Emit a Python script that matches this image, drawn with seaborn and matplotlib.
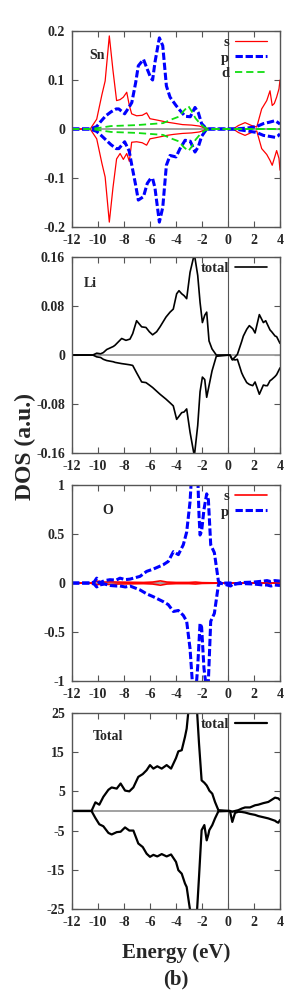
import matplotlib
matplotlib.use('agg')
import seaborn as sns
import matplotlib.pyplot as plt

sns.set_style('ticks')
plt.rcParams['font.family'] = ['Liberation Serif', 'DejaVu Serif']
plt.rcParams['font.weight'] = 'bold'
plt.rcParams['axes.unicode_minus'] = False

energy_ticks = [-12, -10, -8, -6, -4, -2, 0, 2, 4]
energy_labels = ['-12', '-10', '-8', '-6', '-4', '-2', '0', '2', '4']

# ---- Sn ----
sn_s_e = [-12, -10.6, -10.1, -9.7, -9.45, -9.13, -8.85, -8.57, -8.3, -8.05, -7.79, -7.59, -7.41, -7.03, -6.6,
          -6.26, -6.0, -5.6, -5.23, -4.7, -4.2, -3.5, -2.8, -2.2, -1.8, -1.4, 0.4, 0.79, 1.31, 1.82, 2.21, 2.59,
          2.98, 3.23, 3.4, 3.56, 3.74, 3.92, 4.0]
sn_s_up = [0, 0, 0.02, 0.07, 0.098, 0.19, 0.12, 0.058, 0.06, 0.065, 0.075, 0.048, 0.031, 0.027, 0.028,
           0.033, 0.021, 0.019, 0.017, 0.014, 0.012, 0.009, 0.008, 0.006, 0.002, 0, 0, 0.007, 0.013, 0.007, 0.004,
           0.041, 0.058, 0.078, 0.048, 0.052, 0.065, 0.082, 0.1]
sn_s_dn = [0, 0, -0.02, -0.07, -0.098, -0.19, -0.12, -0.061, -0.05, -0.062, -0.05, -0.066, -0.027, -0.026,
           -0.028, -0.033, -0.02, -0.018, -0.016, -0.013, -0.011, -0.009, -0.008, -0.006, -0.002, 0, 0, -0.007,
           -0.013, -0.007, -0.004, -0.04, -0.052, -0.064, -0.074, -0.06, -0.044, -0.06, -0.084]

sn_p_e = [-12, -10.6, -10.1, -9.8, -9.4, -9.0, -8.6, -8.4, -7.95, -7.6, -7.4, -7.1, -6.9, -6.5, -6.21, -5.95,
          -5.8, -5.62, -5.28, -5.02, -4.74, -4.46, -4.0, -3.69, -3.3, -2.9, -2.54, -2.28, -2.03, -1.64, -1.2, 0.5,
          1.5, 2.2, 2.72, 3.2, 3.62, 3.85, 4.0]
sn_p_up = [0, 0, 0.005, 0.015, 0.027, 0.035, 0.041, 0.041, 0.031, 0.045, 0.054, 0.095, 0.129, 0.142, 0.122,
           0.105, 0.1, 0.136, 0.186, 0.17, 0.088, 0.065, 0.048, 0.038, 0.026, 0.025, 0.044, 0.033, 0.011, 0, 0, 0,
           0.002, 0.005, 0.011, 0.014, 0.017, 0.013, 0.01]
sn_p_dn = [0, 0, -0.005, -0.012, -0.022, -0.032, -0.04, -0.04, -0.026, -0.045, -0.074, -0.115, -0.145, -0.138,
           -0.111, -0.101, -0.101, -0.12, -0.19, -0.16, -0.074, -0.054, -0.057, -0.04, -0.023, -0.025, -0.047,
           -0.036, -0.015, 0, 0, 0, -0.004, -0.007, -0.013, -0.015, -0.017, -0.014, -0.01]

sn_d_e = [-12, -10.6, -10.0, -9.0, -8.0, -7.0, -6.0, -5.0, -4.3, -3.8, -3.44, -3.05, -2.79, -2.5, -2.15, -1.8,
          -1.4, 4.0]
sn_d_up = [0, 0, 0.002, 0.006, 0.007, 0.008, 0.01, 0.012, 0.02, 0.025, 0.036, 0.047, 0.036, 0.022, 0.011,
           0.003, 0, 0]
sn_d_dn = [0, 0, -0.002, -0.006, -0.007, -0.008, -0.01, -0.012, -0.02, -0.025, -0.036, -0.045, -0.036, -0.022,
           -0.011, -0.003, 0, 0]

# ---- Li ----
li_e = [-12, -10.4, -10.1, -9.8, -9.59, -9.33, -8.82, -8.69, -8.18, -7.85, -7.54, -7.33, -7.03, -6.64, -6.31,
        -6.05, -5.8, -5.49, -5.23, -4.77, -4.46, -4.21, -3.95, -3.77, -3.56, -3.38, -3.18, -2.92, -2.59, -2.33,
        -2.15, -1.97, -1.79, -1.64, -1.46, -1.23, -0.9, 0.15, 0.33, 0.55, 0.72, 1.05, 1.18, 1.44, 1.64, 1.9, 2.08,
        2.41, 2.72, 2.9, 3.03, 3.23, 3.36, 3.62, 3.74, 4.0]
li_up = [0, 0, 0.003, 0.002, 0.004, 0.009, 0.014, 0.016, 0.027, 0.024, 0.026, 0.035, 0.056, 0.046, 0.045,
         0.038, 0.033, 0.038, 0.046, 0.062, 0.07, 0.075, 0.1, 0.105, 0.1, 0.097, 0.092, 0.135, 0.165, 0.13, 0.086,
         0.053, 0.065, 0.07, 0.023, 0.01, 0, 0, -0.008, -0.003, 0.001, 0.022, 0.031, 0.042, 0.048, 0.043, 0.036,
         0.066, 0.053, 0.056, 0.05, 0.041, 0.038, 0.031, 0.03, 0.019]
li_dn = [0, 0, -0.003, -0.004, -0.007, -0.009, -0.011, -0.012, -0.014, -0.015, -0.016, -0.017, -0.029, -0.044,
         -0.045, -0.049, -0.053, -0.059, -0.064, -0.072, -0.078, -0.083, -0.105, -0.1, -0.094, -0.093, -0.088,
         -0.126, -0.165, -0.115, -0.06, -0.036, -0.04, -0.069, -0.05, -0.026, -0.002, 0, -0.007, -0.008, -0.007,
         -0.029, -0.035, -0.045, -0.048, -0.05, -0.044, -0.064, -0.049, -0.05, -0.05, -0.042, -0.04, -0.035,
         -0.032, -0.021]

# ---- O ----
o_s_e = [-12, -10.6, -10.3, -10.1, -9.5, -9.0, -8.5, -7.5, -6.5, -5.8, -5.2, -4.7, -4.0, -3.0, -2.5, -2.0, -1.0,
         -0.6, 4.0]
o_s_up = [0, 0, 0.01, 0.02, 0.01, 0.012, 0.01, 0.008, 0.006, 0.01, 0.022, 0.01, 0.006, 0.006, 0.01, 0.004,
          0.002, 0, 0]
o_s_dn = [0, 0, -0.01, -0.015, -0.012, -0.015, -0.01, -0.008, -0.006, -0.01, -0.022, -0.01, -0.006, -0.006,
          -0.01, -0.004, -0.002, 0, 0]

o_p_e = [-12, -10.6, -10.3, -10.1, -9.9, -9.5, -9.08, -8.6, -8.31, -7.9, -7.54, -6.77, -6.26, -5.74, -4.98,
         -4.6, -4.2, -3.82, -3.44, -3.18, -2.92, -2.8, -2.67, -2.5, -2.33, -2.23, -2.15, -2.03, -1.85, -1.64, -1.51,
         -1.33, -1.05, -0.74, -0.6, 0.2, 0.4, 1.0, 2.0, 2.7, 3.0, 3.3, 3.6, 4.0]
o_p_up = [0, 0, 0.01, 0.05, 0.0, 0.025, 0.034, 0.03, 0.05, 0.035, 0.04, 0.068, 0.119, 0.143, 0.187, 0.22,
          0.32, 0.29, 0.39, 0.52, 0.83, 1.1, 1.3, 1.3, 1.1, 0.69, 0.49, 0.53, 0.75, 0.91, 0.85, 0.39, 0.31, 0.02,
          0, 0, -0.015, 0.005, 0.01, 0.02, 0.025, 0.015, 0.025, 0.02]
o_p_dn = [0, 0, -0.01, -0.04, -0.02, -0.01, -0.025, -0.03, -0.03, -0.04, -0.03, -0.07, -0.11, -0.14, -0.19,
          -0.22, -0.29, -0.28, -0.33, -0.39, -0.67, -0.9, -1.15, -1.15, -0.85, -0.6, -0.41, -0.45, -0.87, -1.1,
          -1.0, -0.39, -0.31, -0.02, 0, -0.03, -0.01, -0.005, -0.01, -0.02, -0.02, -0.03, -0.02, -0.025]

# ---- Total ----
tot_e = [-12, -10.5, -10.2, -9.9, -9.59, -9.2, -8.95, -8.56, -8.26, -7.92, -7.59, -7.28, -6.9, -6.56, -6.26,
         -6.0, -5.74, -5.44, -5.1, -4.72, -4.38, -4.0, -3.82, -3.56, -3.31, -3.18, -3.0, -2.7, -2.41, -2.23, -2.03,
         -1.82, -1.64, -1.51, -1.44, -1.21, -1.0, -0.74, 0.15, 0.33, 0.54, 0.79, 1.05, 1.31, 1.69, 2.08, 2.33,
         2.72, 3.1, 3.62, 3.74, 3.87, 4.0]
tot_up = [0, 0, 2.2, 1.6, 3.6, 5.4, 6.0, 5.7, 7.0, 5.2, 5.0, 6.0, 8.7, 9.4, 10.4, 11.7, 10.8, 11.4, 10.8,
          11.7, 10.8, 13.5, 15.2, 15.5, 18.9, 21.0, 27.0, 32.0, 27.0, 17.2, 7.8, 7.2, 6.5, 5.7, 5.2, 4.4, 2.3, 0.2,
          0, -0.2, 0, 0.2, 0.6, 0.9, 0.9, 1.45, 1.6, 2.0, 2.3, 3.4, 3.3, 3.2, 2.8]
tot_dn = [0, 0, -1.8, -3.4, -3.9, -5.6, -6.0, -5.4, -5.3, -4.2, -5.0, -5.0, -8.3, -9.2, -10.9, -11.7, -11.2,
          -11.6, -11.0, -11.6, -11.1, -13.0, -15.1, -16.0, -18.5, -19.4, -23.5, -30.0, -27.0, -16.8, -4.9, -3.6,
          -7.5, -6.0, -4.9, -3.6, -1.9, -0.1, 0, -2.8, -0.5, -0.2, -0.25, -0.4, -0.75, -1.0, -1.3, -1.6, -1.9,
          -2.5, -2.8, -3.0, -2.3]

panel_names = ['Sn', 'Li', 'O', 'Total']
panel_ylims = [(-0.2, 0.2), (-0.16, 0.16), (-1, 1), (-25, 25)]
panel_yticks = [[-0.2, -0.1, 0, 0.1, 0.2], [-0.16, -0.08, 0, 0.08, 0.16], [-1, -0.5, 0, 0.5, 1],
                [-25, -15, -5, 5, 15, 25]]
panel_yticklabels = [['-0.2', '-0.1', '0', '0.1', '0.2'], ['-0.16', '-0.08', '0', '0.08', '0.16'],
                     ['-1', '-0.5', '0', '0.5', '1'], ['-25', '-15', '-5', '5', '15', '25']]
panel_name_pos = [(0.12, 0.873), (0.09, 0.867), (0.173, 0.872), (0.175, 0.878)]

fig = plt.figure(figsize=(2.99, 9.97), dpi=100)
bottoms = [0.7723, 0.5456, 0.3169, 0.0883]
axes = [fig.add_axes([0.2408, b, 0.6957, 0.1966]) for b in bottoms]


def curve(ax, e, vals, color, lw, ls='-', label=None):
    kw = {}
    if label is not None:
        kw['label'] = label
    sns.lineplot(x=e, y=vals, ax=ax, color=color, lw=lw, linestyle=ls, sort=False, estimator=None, **kw)


red, blue, green = '#ff0000', '#0000ff', '#11dd11'
p_dash = (0, (2.4, 0.9))
d_dash = (0, (4, 2.2))

ax = axes[0]
curve(ax, sn_s_e, sn_s_up, red, 0.9, label='s')
curve(ax, sn_s_e, sn_s_dn, red, 0.9)
curve(ax, sn_p_e, sn_p_up, blue, 2.2, p_dash, label='p')
curve(ax, sn_p_e, sn_p_dn, blue, 2.2, p_dash)
curve(ax, sn_d_e, sn_d_up, green, 1.3, d_dash, label='d')
curve(ax, sn_d_e, sn_d_dn, green, 1.3, d_dash)

ax = axes[1]
curve(ax, li_e, li_up, 'black', 1.2, label='total')
curve(ax, li_e, li_dn, 'black', 1.2)

ax = axes[2]
curve(ax, o_s_e, o_s_up, red, 1.2, label='s')
curve(ax, o_s_e, o_s_dn, red, 1.2)
curve(ax, o_p_e, o_p_up, blue, 2.2, p_dash, label='p')
curve(ax, o_p_e, o_p_dn, blue, 2.2, p_dash)

ax = axes[3]
curve(ax, tot_e, tot_up, 'black', 1.6, label='total')
curve(ax, tot_e, tot_dn, 'black', 1.6)

for i, ax in enumerate(axes):
    ax.axhline(0, color='#9a9a9a', lw=1.3, zorder=1)
    ax.axvline(0, color='#555555', lw=0.8, zorder=1)
    ax.set_xlim(-12, 4)
    ax.set_ylim(*panel_ylims[i])
    ax.set_xticks(energy_ticks)
    ax.set_xticklabels(energy_labels)
    ax.set_yticks(panel_yticks[i])
    ax.set_yticklabels(panel_yticklabels[i])
    ax.set_xlabel('')
    ax.set_ylabel('')
    ax.tick_params(direction='in', top=True, right=True, length=4, width=0.8, color='#555555',
                   labelsize=10, pad=5)
    for sp in ax.spines.values():
        sp.set_color('#555555')
        sp.set_linewidth(1.0)
    ax.text(*panel_name_pos[i], panel_names[i], transform=ax.transAxes, ha='center', va='center',
            fontsize=10, fontweight='bold')
    ax.legend(loc='upper right', bbox_to_anchor=(0.9375, 0.975), frameon=False, markerfirst=False,
              fontsize=10.5, borderpad=0, borderaxespad=0, handlelength=2.2, handletextpad=0.4,
              labelspacing=0.15)

fig.text(0.084, 0.552, 'DOS (a.u.)', rotation=90, ha='center', va='center', fontsize=17, fontweight='bold')
fig.text(0.589, 0.044, 'Energy (eV)', ha='center', va='center', fontsize=15, fontweight='bold')
fig.text(0.589, 0.018, '(b)', ha='center', va='center', fontsize=15, fontweight='bold')

fig.savefig('out.png', dpi=100)
